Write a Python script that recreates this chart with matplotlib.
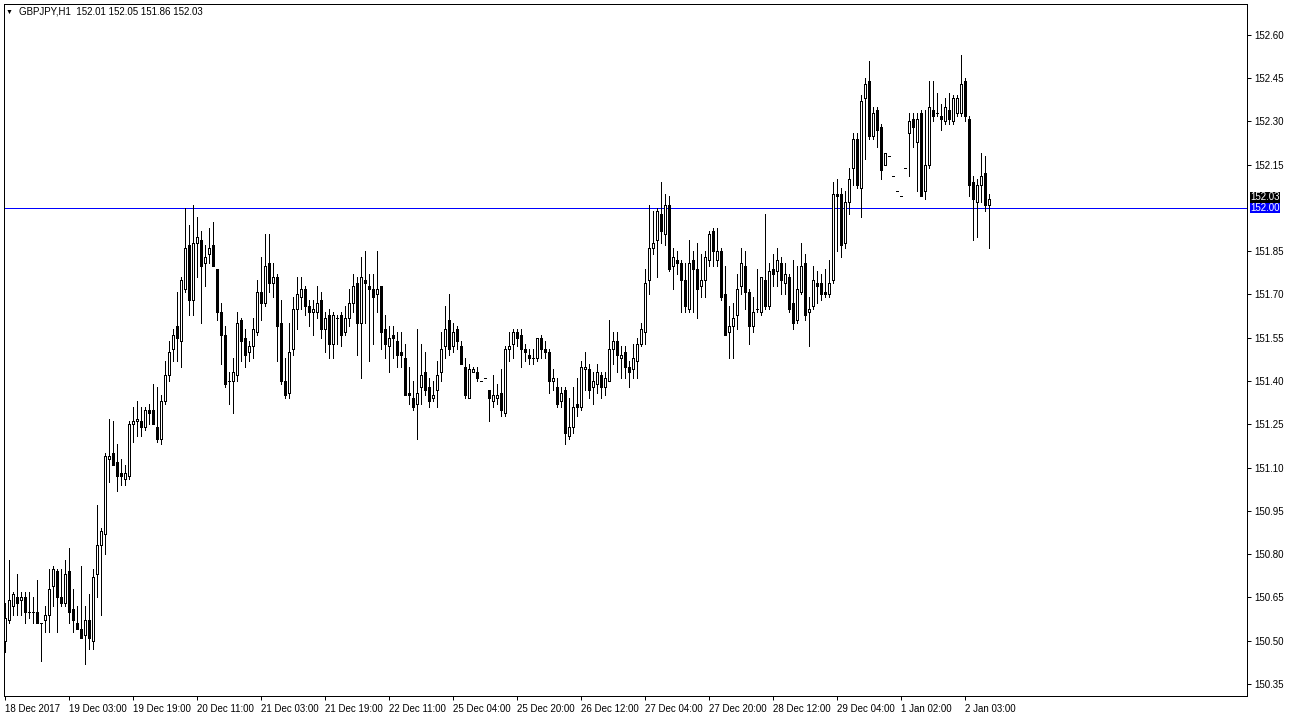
import numpy as np
import matplotlib.pyplot as plt
from matplotlib.patches import Rectangle

plt.rcParams['font.family'] = ['Liberation Sans', 'DejaVu Sans']

# GBPJPY H1 candles (open, high, low, close)
opens = [150.50, 150.57, 150.62, 150.65, 150.64, 150.65, 150.60, 150.60, 150.60, 150.56,
         150.57, 150.59, 150.69, 150.74, 150.65, 150.63, 150.74, 150.61, 150.56, 150.54,
         150.52, 150.57, 150.50, 150.73, 150.83, 150.87, 151.13, 151.15, 151.12, 151.08,
         151.06, 151.07, 151.25, 151.26, 151.26, 151.24, 151.30, 151.30, 151.24, 151.20,
         151.33, 151.42, 151.51, 151.59, 151.54, 151.72, 151.87, 151.68, 151.88, 151.89,
         151.81, 151.84, 151.87, 151.79, 151.64, 151.56, 151.40, 151.40, 151.42, 151.61,
         151.55, 151.50, 151.52, 151.57, 151.71, 151.67, 151.81, 151.74, 151.76, 151.60,
         151.40, 151.36, 151.51, 151.65, 151.69, 151.72, 151.66, 151.64, 151.64, 151.68,
         151.58, 151.63, 151.53, 151.62, 151.63, 151.57, 151.62, 151.67, 151.74, 151.60,
         151.75, 151.73, 151.72, 151.70, 151.73, 151.58, 151.52, 151.56, 151.54, 151.50,
         151.48, 151.36, 151.34, 151.32, 151.38, 151.43, 151.38, 151.34, 151.37, 151.43,
         151.52, 151.61, 151.52, 151.58, 151.52, 151.45, 151.34, 151.43, 151.43, 151.40,
         151.41, 151.37, 151.33, 151.34, 151.36, 151.29, 151.51, 151.53, 151.57, 151.56,
         151.51, 151.49, 151.48, 151.48, 151.55, 151.51, 151.50, 151.40, 151.38, 151.33,
         151.37, 151.21, 151.24, 151.32, 151.31, 151.44, 151.44, 151.38, 151.39, 151.42,
         151.38, 151.40, 151.51, 151.54, 151.48, 151.50, 151.45, 151.44, 151.47, 151.53,
         151.57, 151.75, 151.86, 151.89, 151.98, 151.91, 152.01, 151.80, 151.82, 151.81,
         151.75, 151.65, 151.82, 151.79, 151.73, 151.75, 151.82, 151.92, 151.82, 151.85,
         151.70, 151.57, 151.59, 151.63, 151.73, 151.80, 151.71, 151.59, 151.65, 151.64,
         151.75, 151.66, 151.79, 151.78, 151.81, 151.74, 151.76, 151.67, 151.61, 151.71,
         151.81, 151.64, 151.66, 151.74, 151.74, 151.71, 151.70, 151.75, 152.05, 152.05,
         151.88, 152.02, 152.14, 152.24, 152.07, 152.38, 152.44, 152.25, 152.34, 152.28,
         152.15, 152.18, 152.11, 152.06, 152.04, 152.14, 152.26, 152.31, 152.23, 152.33,
         152.06, 152.15, 152.34, 152.33, 152.32, 152.30, 152.34, 152.30, 152.33, 152.33,
         152.44, 152.31, 152.09, 152.02, 152.08, 152.12, 152.01]

highs = [150.63, 150.78, 150.67, 150.73, 150.67, 150.67, 150.67, 150.65, 150.71, 150.56,
         150.62, 150.75, 150.76, 150.75, 150.75, 150.78, 150.82, 150.68, 150.62, 150.76,
         150.62, 150.66, 150.75, 150.97, 150.89, 151.15, 151.27, 151.26, 151.18, 151.13,
         151.11, 151.26, 151.31, 151.33, 151.31, 151.31, 151.32, 151.39, 151.38, 151.35,
         151.47, 151.54, 151.58, 151.71, 151.76, 152.00, 151.94, 152.01, 151.97, 151.92,
         151.87, 151.93, 151.95, 151.79, 151.67, 151.59, 151.43, 151.48, 151.64, 151.62,
         151.58, 151.54, 151.62, 151.75, 151.83, 151.91, 151.91, 151.81, 151.77, 151.68,
         151.48, 151.60, 151.69, 151.76, 151.76, 151.73, 151.68, 151.68, 151.73, 151.71,
         151.64, 151.65, 151.64, 151.63, 151.64, 151.66, 151.72, 151.77, 151.76, 151.83,
         151.85, 151.77, 151.77, 151.85, 151.73, 151.63, 151.59, 151.59, 151.57, 151.57,
         151.53, 151.45, 151.40, 151.58, 151.53, 151.50, 151.41, 151.40, 151.47, 151.57,
         151.66, 151.70, 151.60, 151.59, 151.54, 151.48, 151.46, 151.45, 151.45, 151.40,
         151.41, 151.37, 151.42, 151.39, 151.44, 151.52, 151.57, 151.58, 151.58, 151.58,
         151.53, 151.51, 151.51, 151.55, 151.56, 151.54, 151.51, 151.44, 151.41, 151.38,
         151.38, 151.34, 151.38, 151.41, 151.47, 151.50, 151.46, 151.43, 151.46, 151.43,
         151.43, 151.61, 151.57, 151.57, 151.52, 151.52, 151.47, 151.53, 151.55, 151.60,
         151.79, 152.01, 151.99, 152.00, 152.09, 152.05, 152.04, 151.86, 151.85, 151.82,
         151.81, 151.89, 151.85, 151.88, 151.84, 151.85, 151.92, 151.93, 151.93, 151.86,
         151.80, 151.66, 151.67, 151.77, 151.86, 151.85, 151.72, 151.69, 151.79, 151.76,
         151.98, 151.81, 151.84, 151.86, 151.83, 151.81, 151.77, 151.82, 151.80, 151.88,
         151.84, 151.69, 151.80, 151.78, 151.77, 151.79, 151.82, 152.09, 152.10, 152.07,
         152.06, 152.14, 152.26, 152.26, 152.39, 152.45, 152.51, 152.35, 152.35, 152.29,
         152.19, 152.18, 152.11, 152.06, 152.04, 152.14, 152.33, 152.33, 152.33, 152.34,
         152.34, 152.44, 152.44, 152.40, 152.36, 152.38, 152.40, 152.39, 152.39, 152.53,
         152.45, 152.32, 152.11, 152.10, 152.19, 152.18, 152.05]

lows = [150.46, 150.56, 150.59, 150.59, 150.59, 150.56, 150.58, 150.56, 150.56, 150.43,
        150.53, 150.53, 150.62, 150.53, 150.62, 150.62, 150.56, 150.53, 150.54, 150.51,
        150.42, 150.47, 150.47, 150.65, 150.59, 150.80, 151.05, 151.11, 151.02, 151.04,
        151.04, 151.06, 151.19, 151.21, 151.21, 151.23, 151.25, 151.25, 151.19, 151.18,
        151.32, 151.40, 151.47, 151.47, 151.45, 151.71, 151.63, 151.63, 151.76, 151.60,
        151.73, 151.81, 151.80, 151.61, 151.46, 151.38, 151.32, 151.29, 151.40, 151.47,
        151.45, 151.47, 151.48, 151.56, 151.61, 151.66, 151.71, 151.69, 151.47, 151.39,
        151.34, 151.34, 151.49, 151.58, 151.65, 151.63, 151.59, 151.56, 151.62, 151.55,
        151.50, 151.48, 151.48, 151.53, 151.52, 151.56, 151.59, 151.64, 151.49, 151.41,
        151.60, 151.47, 151.53, 151.64, 151.51, 151.48, 151.43, 151.48, 151.45, 151.45,
        151.35, 151.32, 151.30, 151.20, 151.32, 151.35, 151.31, 151.33, 151.31, 151.40,
        151.48, 151.49, 151.50, 151.51, 151.46, 151.34, 151.34, 151.43, 151.40, 151.40,
        151.41, 151.26, 151.31, 151.32, 151.28, 151.28, 151.47, 151.48, 151.52, 151.45,
        151.47, 151.46, 151.46, 151.47, 151.48, 151.48, 151.36, 151.37, 151.31, 151.31,
        151.18, 151.20, 151.22, 151.28, 151.30, 151.37, 151.34, 151.32, 151.36, 151.34,
        151.35, 151.40, 151.46, 151.43, 151.41, 151.41, 151.38, 151.41, 151.41, 151.52,
        151.53, 151.70, 151.84, 151.76, 151.88, 151.87, 151.78, 151.72, 151.77, 151.64,
        151.64, 151.64, 151.64, 151.62, 151.69, 151.69, 151.80, 151.80, 151.80, 151.68,
        151.56, 151.48, 151.48, 151.58, 151.70, 151.65, 151.53, 151.57, 151.64, 151.63,
        151.65, 151.65, 151.73, 151.73, 151.70, 151.70, 151.64, 151.58, 151.60, 151.70,
        151.61, 151.52, 151.65, 151.67, 151.68, 151.69, 151.69, 151.74, 151.85, 151.83,
        151.86, 151.98, 152.08, 152.07, 151.97, 152.17, 152.24, 152.24, 152.21, 152.10,
        152.15, 152.18, 152.11, 152.06, 152.04, 152.14, 152.11, 152.21, 152.06, 152.04,
        152.03, 152.14, 152.30, 152.32, 152.27, 152.29, 152.29, 152.29, 152.32, 152.32,
        152.30, 152.04, 151.89, 151.90, 152.02, 151.99, 151.86]

closes = [150.58, 150.64, 150.66, 150.63, 150.65, 150.60, 150.60, 150.60, 150.56, 150.56,
          150.59, 150.68, 150.75, 150.65, 150.63, 150.73, 150.60, 150.57, 150.54, 150.51,
          150.57, 150.51, 150.72, 150.83, 150.88, 151.14, 151.14, 151.11, 151.07, 151.07,
          151.08, 151.25, 151.26, 151.27, 151.24, 151.30, 151.29, 151.25, 151.20, 151.33,
          151.42, 151.50, 151.56, 151.55, 151.75, 151.86, 151.68, 151.88, 151.90, 151.80,
          151.83, 151.86, 151.80, 151.64, 151.56, 151.39, 151.40, 151.43, 151.60, 151.54,
          151.49, 151.52, 151.58, 151.71, 151.67, 151.80, 151.74, 151.76, 151.59, 151.40,
          151.35, 151.50, 151.65, 151.70, 151.72, 151.66, 151.64, 151.65, 151.67, 151.58,
          151.62, 151.53, 151.63, 151.62, 151.56, 151.62, 151.67, 151.73, 151.60, 151.76,
          151.74, 151.72, 151.69, 151.72, 151.57, 151.53, 151.55, 151.55, 151.49, 151.49,
          151.35, 151.35, 151.31, 151.36, 151.42, 151.37, 151.33, 151.35, 151.42, 151.51,
          151.58, 151.51, 151.57, 151.54, 151.46, 151.35, 151.44, 151.44, 151.41, 151.40,
          151.41, 151.34, 151.35, 151.35, 151.30, 151.51, 151.52, 151.57, 151.55, 151.51,
          151.50, 151.48, 151.48, 151.55, 151.51, 151.50, 151.40, 151.41, 151.32, 151.36,
          151.22, 151.24, 151.31, 151.31, 151.45, 151.45, 151.37, 151.40, 151.43, 151.38,
          151.41, 151.51, 151.54, 151.49, 151.49, 151.45, 151.43, 151.48, 151.53, 151.58,
          151.74, 151.86, 151.88, 151.99, 151.92, 152.01, 151.79, 151.83, 151.81, 151.75,
          151.66, 151.81, 151.79, 151.72, 151.75, 151.83, 151.91, 151.85, 151.85, 151.69,
          151.56, 151.59, 151.62, 151.72, 151.81, 151.71, 151.59, 151.64, 151.65, 151.76,
          151.66, 151.78, 151.77, 151.82, 151.75, 151.77, 151.65, 151.60, 151.72, 151.80,
          151.63, 151.65, 151.75, 151.73, 151.70, 151.70, 151.74, 152.05, 152.04, 151.87,
          152.02, 152.10, 152.24, 152.08, 152.37, 152.43, 152.25, 152.33, 152.27, 152.13,
          152.19, 152.18, 152.11, 152.06, 152.04, 152.14, 152.30, 152.28, 152.31, 152.04,
          152.15, 152.35, 152.32, 152.33, 152.31, 152.35, 152.31, 152.38, 152.38, 152.43,
          152.32, 152.08, 152.03, 152.08, 152.11, 152.01, 152.03]

# time axis labels, one every 16 bars
label_bars = [0, 16, 32, 48, 64, 80, 96, 112, 128, 144, 160, 176, 192, 208, 224, 240]
label_text = ['18 Dec 2017', '19 Dec 03:00', '19 Dec 19:00', '20 Dec 11:00',
              '21 Dec 03:00', '21 Dec 19:00', '22 Dec 11:00', '25 Dec 04:00',
              '25 Dec 20:00', '26 Dec 12:00', '27 Dec 04:00', '27 Dec 20:00',
              '28 Dec 12:00', '29 Dec 04:00', '1 Jan 02:00', '2 Jan 03:00']

# right price scale (152.00 is covered by the line's own label)
price_ticks = [150.35, 150.50, 150.65, 150.80, 150.95, 151.10, 151.25, 151.40,
               151.55, 151.70, 151.85, 152.15, 152.30, 152.45, 152.60]
hline_level = 152.00
bid_price = 152.03

o = np.array(opens)
h = np.array(highs)
l = np.array(lows)
c = np.array(closes)
x = np.arange(len(o))

W, H = 1290, 721
fs = 7
fig = plt.figure(figsize=(W / 100, H / 100), dpi=100)
ax = fig.add_axes([4 / W, 25 / H, 1243 / W, 692 / H])
ax.set_xlim(-0.25, 310.5)
ax.set_ylim(150.308, 152.707)

lw = 0.72  # one pixel
ax.vlines(x, l, h, colors='black', linewidth=lw, antialiased=False, zorder=2)
for i in range(len(x)):
    bottom = min(o[i], c[i])
    height = abs(c[i] - o[i])
    face = 'white' if c[i] > o[i] else 'black'
    ax.add_patch(Rectangle((x[i] - 0.25, bottom), 0.5, height, facecolor=face,
                           edgecolor='black', linewidth=lw, antialiased=False, zorder=3))

ax.axhline(hline_level, color='#0000ff', linewidth=lw, antialiased=False, zorder=1)

# price scale on the right
ax.yaxis.tick_right()
ax.set_yticks(price_ticks)
ax.set_yticklabels(['%.2f' % p for p in price_ticks])
ax.tick_params(axis='y', direction='out', length=3, width=lw, pad=2, labelsize=fs)

# time scale at the bottom
ax.set_xticks(label_bars)
ax.set_xticklabels(label_text)
for t in ax.get_xticklabels():
    t.set_ha('left')
ax.tick_params(axis='x', direction='out', length=3, width=lw, pad=3, labelsize=fs)

for s in ax.spines.values():
    s.set_linewidth(lw)
    s.set_color('black')

# price labels: horizontal line level, with the bid label sitting just above it
ax.annotate('%.2f' % hline_level, xy=(1, hline_level), xycoords=('axes fraction', 'data'),
            xytext=(2.5, 0), textcoords='offset points', fontsize=fs, color='white',
            va='center', ha='left',
            bbox=dict(boxstyle='square,pad=0.05', facecolor='#0000ff', edgecolor='none'))
ax.annotate('%.2f' % bid_price, xy=(1, hline_level), xycoords=('axes fraction', 'data'),
            xytext=(2.5, 4.2), textcoords='offset points', fontsize=fs, color='white',
            va='bottom', ha='left',
            bbox=dict(boxstyle='square,pad=0.05', facecolor='black', edgecolor='none'))

# header
fig.text(6 / W, 1 - 12 / H, '\u25bc', fontsize=5, va='center', ha='left')
fig.text(19 / W, 1 - 12 / H, 'GBPJPY,H1  152.01 152.05 151.86 152.03',
         fontsize=fs, va='center', ha='left')

fig.savefig('out.png', dpi=100)
